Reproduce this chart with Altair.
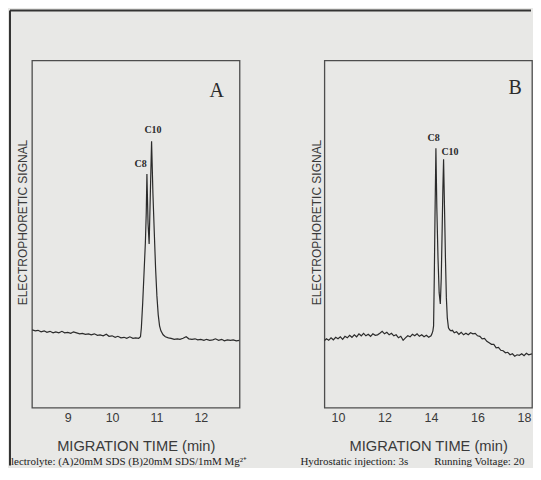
import altair as alt
import pandas as pd

# ---------------- data ----------------
a_time = [8.20, 8.27, 8.33, 8.40, 8.47, 8.53, 8.60, 8.67, 8.73, 8.80, 8.87, 8.93,
          9.00, 9.07, 9.13, 9.20, 9.27, 9.33, 9.40, 9.47, 9.53, 9.60, 9.67, 9.73,
          9.80, 9.87, 9.93, 10.00, 10.07, 10.13, 10.20, 10.27, 10.33, 10.40, 10.47,
          10.53, 10.60, 10.64, 10.66, 10.69, 10.72, 10.75, 10.77, 10.785, 10.81,
          10.835, 10.86, 10.89, 10.92, 10.95, 10.98, 11.01, 11.04, 11.07, 11.10,
          11.15, 11.20, 11.27, 11.33, 11.40, 11.47, 11.53, 11.60, 11.67, 11.73,
          11.80, 11.87, 11.93, 12.00, 12.07, 12.13, 12.20, 12.27, 12.33, 12.40,
          12.47, 12.53, 12.60, 12.67, 12.73, 12.80, 12.87]
a_signal = [78, 77, 77.5, 76, 77, 75.5, 76.5, 75, 76, 75, 76.5, 75,
            75.5, 74.5, 76, 75, 74, 74.5, 73.5, 74, 73, 74, 72.5, 73,
            72, 73.5, 71.5, 72, 70.5, 71.5, 70, 70.5, 69.5, 71, 69.5,
            70, 69.5, 71, 80, 105, 135, 165, 195, 234, 185,
            164, 210, 267, 215, 177, 140, 112, 93, 82, 77,
            73, 71, 70, 69.5, 68.5, 69, 68.5, 69.5, 71, 69,
            68.5, 69, 68, 68.5, 67.5, 68.5, 67.5, 68, 69, 67.5,
            68.5, 67, 68, 67.5, 68, 67, 67.5]

b_time = [9.41, 9.50, 9.60, 9.70, 9.80, 9.90, 10.00, 10.10, 10.20, 10.30, 10.40,
          10.50, 10.60, 10.70, 10.80, 10.90, 11.00, 11.10, 11.20, 11.30, 11.40,
          11.50, 11.60, 11.70, 11.80, 11.90, 12.00, 12.10, 12.20, 12.30, 12.40,
          12.50, 12.60, 12.70, 12.80, 12.90, 13.00, 13.10, 13.20, 13.30, 13.40,
          13.50, 13.60, 13.70, 13.80, 13.90, 14.00, 14.04, 14.08, 14.11, 14.14,
          14.17, 14.21, 14.25, 14.30, 14.35, 14.40, 14.44, 14.48, 14.51, 14.54,
          14.58, 14.62, 14.66, 14.70, 14.75, 14.80, 14.86, 14.92, 15.00, 15.10,
          15.20, 15.30, 15.40, 15.50, 15.60, 15.70, 15.80, 15.90, 16.00, 16.10,
          16.20, 16.30, 16.40, 16.50, 16.60, 16.70, 16.80, 16.90, 17.00, 17.10,
          17.20, 17.30, 17.40, 17.50, 17.60, 17.70, 17.80, 17.90, 18.00, 18.10,
          18.20, 18.34]
b_signal = [67, 69, 67.5, 70, 68, 70.5, 69, 71, 68.5, 71.5, 70,
            72.5, 70.5, 73, 71, 74, 72, 74.5, 72, 73.5, 71.5,
            74, 72.5, 73, 74.5, 76.5, 74, 75.5, 73, 74.5, 72,
            73, 70, 71.5, 67.5, 70, 72, 71, 73.5, 72, 74,
            71.5, 73, 71, 72.5, 70.5, 72, 74, 77, 82, 130,
            190, 260, 200, 150, 115, 104, 130, 180, 220, 249,
            200, 150, 110, 90, 80, 78, 77, 77.5, 75, 76,
            73.5, 75.5, 73, 74.5, 73, 75, 74, 74.5, 72, 71.5,
            69, 69.5, 66.5, 65, 63.5, 63.5, 60, 60.5, 57.5, 57,
            55, 55.5, 53, 54, 51.5, 53, 52.5, 54, 52, 54.5,
            53, 54]

a_ticks = [9, 10, 11, 12]
b_ticks = [10, 12, 14, 16, 18]
a_domain = [8.194, 12.873]
b_domain = [9.415, 18.342]
signal_domain = [0, 348]

peak_names = ["C8", "C10"]
a_label_time = [10.644, 10.922]
a_label_signal = [244.5, 278.5]
b_label_time = [14.11, 14.816]
b_label_signal = [270, 256.5]

panel_letters = ["A", "B"]
x_title = "MIGRATION TIME (min)"
y_title = "ELECTROPHORETIC SIGNAL"
caption_parts = ["lectrolyte: (A)20mM SDS  (B)20mM SDS/1mM Mg\u00b2\u207a",
                 "Hydrostatic injection: 3s",
                 "Running Voltage: 20kV"]

# ---------------- styling ----------------
INK = "#2b2b2b"
TXT = "#3a3a3a"
BG = "#e8e8e6"
W, H = 208, 348
SANS = "Liberation Sans"
SERIF = "Liberation Serif"


def panel(times, signals, domain, ticks, letter, letter_xy, lab_t, lab_s, ytitle_x,
          extra=()):
    df = pd.DataFrame({"t": times, "s": signals})
    xs = alt.Scale(domain=domain, nice=False, zero=False)
    ys = alt.Scale(domain=signal_domain, nice=False, zero=False)
    x_axis = alt.Axis(values=ticks, format="d", title=x_title, grid=False, domain=False,
                      ticks=False, labelPadding=4, labelFontSize=12.5, labelColor=TXT,
                      labelFont=SANS, titleFont=SANS, titleFontSize=14.7,
                      titleFontWeight="normal", titleColor=TXT, titleY=43,
                      titleBaseline="alphabetic")
    y_axis = alt.Axis(title=y_title, labels=False, ticks=False, domain=False, grid=False,
                      titleX=ytitle_x, titleY=162, titleAngle=270, titleAlign="center",
                      titleBaseline="middle", titleFont=SANS, titleFontSize=12,
                      titleFontWeight="normal", titleColor=TXT)
    line = alt.Chart(df).mark_line(color=INK, strokeWidth=1.2, clip=True).encode(
        x=alt.X("t:Q", scale=xs, axis=x_axis),
        y=alt.Y("s:Q", scale=ys, axis=y_axis),
    )
    ldf = pd.DataFrame({"t": lab_t, "s": lab_s, "name": peak_names})
    labels = alt.Chart(ldf).mark_text(font=SERIF, fontSize=10, fontWeight="bold",
                                      color=INK, align="center", baseline="middle").encode(
        x="t:Q", y="s:Q", text="name:N")
    let = alt.Chart(pd.DataFrame({"letter": [letter]})).mark_text(
        font=SERIF, fontSize=20, color=INK, align="center", baseline="alphabetic").encode(
        text="letter:N", x=alt.value(letter_xy[0]), y=alt.value(letter_xy[1]))
    return alt.layer(line, labels, let, *extra).properties(width=W, height=H)


one = pd.DataFrame({"k": [0]})
top_rule = alt.Chart(one).mark_rule(color="#333333", strokeWidth=2).encode(
    x=alt.value(-22), x2=alt.value(500), y=alt.value(-50))
left_rule = alt.Chart(one).mark_rule(color="#333333", strokeWidth=2).encode(
    x=alt.value(-22), y=alt.value(-50), y2=alt.value(406))

cap_df = [pd.DataFrame({"c": [p]}) for p in caption_parts]
cap_style = dict(font=SERIF, fontSize=11, color="#222222", align="left",
                 baseline="alphabetic")
cap1 = alt.Chart(cap_df[0]).mark_text(**cap_style).encode(
    text="c:N", x=alt.value(-21), y=alt.value(405))
cap2 = alt.Chart(cap_df[1]).mark_text(**cap_style).encode(
    text="c:N", x=alt.value(269), y=alt.value(405))
cap3 = alt.Chart(cap_df[2]).mark_text(limit=98, ellipsis=" ", **cap_style).encode(
    text="c:N", x=alt.value(403), y=alt.value(405))

panel_a = panel(a_time, a_signal, a_domain, a_ticks, panel_letters[0], (185, 37),
                a_label_time, a_label_signal, -9,
                extra=(top_rule, left_rule, cap1, cap2, cap3))
panel_b = panel(b_time, b_signal, b_domain, b_ticks, panel_letters[1], (191, 34),
                b_label_time, b_label_signal, -8)

chart = alt.hconcat(panel_a, panel_b, spacing=85, bounds="flush").properties(
    padding=0, background=BG
).configure(font=SANS).configure_view(stroke="#4d4d4d", strokeWidth=1.3)

chart.save("out.html", embed_options={"renderer": "svg", "actions": False})
